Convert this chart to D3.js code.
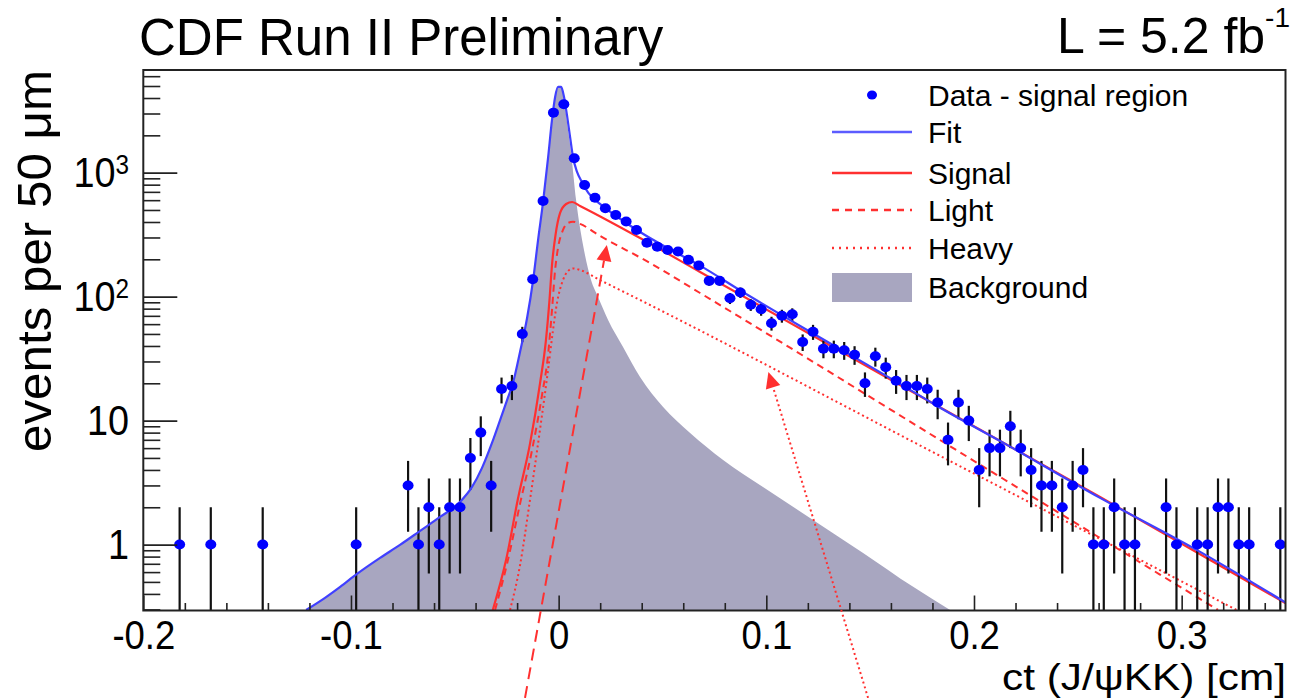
<!DOCTYPE html>
<html><head><meta charset="utf-8">
<script src="https://cdn.jsdelivr.net/npm/d3@7"></script>
<style>
body{margin:0;background:#fff;}
svg{display:block;}
text{font-family:"Liberation Sans",Arial,Helvetica,sans-serif;fill:#000;}
</style>
</head><body>
<svg id="chart" width="1291" height="698"></svg>
<script>
// ---------- data ----------
// data histogram: bin centres of ct [cm] and event counts
const dataCt = [-0.1825,-0.1675,-0.1425,-0.0975,
 -0.0725,-0.0675,-0.0625,-0.0575,-0.0525,-0.0475,-0.0425,-0.0375,-0.0325,-0.0275,
 -0.0225,-0.0175,-0.0125,-0.0075,-0.0025,0.0025,0.0075,0.0125,0.0175,0.0225,
 0.0275,0.0325,0.0375,0.0425,0.0475,0.0525,0.0575,0.0625,0.0675,0.0725,
 0.0775,0.0825,0.0875,0.0925,0.0975,0.1025,0.1075,0.1125,0.1175,0.1225,
 0.1275,0.1325,0.1375,0.1425,0.1475,0.1525,0.1575,0.1625,0.1675,0.1725,
 0.1775,0.1825,0.1875,0.1925,0.1975,0.2025,0.2075,0.2125,0.2175,0.2225,
 0.2275,0.2325,0.2375,0.2425,0.2475,0.2525,0.2575,0.2625,0.2675,0.2725,
 0.2775,0.2925,0.2975,0.3075,0.3125,0.3175,0.3225,0.3275,0.3325,0.3475];
const dataN = [1,1,1,1,
 3,1,2,1,2,2,5,8,3,18,
 19,50,138,591,3048,3562,1306,796,628,516,
 456,403,345,272,253,238,231,198,178,134,
 134,97,108,86,79,61,70,72,43,52,
 38,38,37,34,20,33,27,21,19,19,
 18,14,7,14,10,4,6,6,9,6,
 4,3,3,2,3,4,1,1,2,1,
 1,2,1,1,1,2,2,1,1,1];

// fit (total) curve
const fitCt = [-0.1216,-0.1125,-0.1052,-0.0971,-0.0860,-0.0764,-0.0667,-0.0571,-0.0475,-0.0417,
 -0.0369,-0.0321,-0.0282,-0.0248,-0.0220,-0.0186,-0.0152,-0.0123,-0.0099,-0.0075,
 -0.0051,-0.0032,-0.0017,-0.0003,0.0012,0.0026,0.0040,0.0055,0.0069,0.0089,
 0.0113,0.0142,0.0199,0.0296,0.0392,0.0522,0.0681,0.0879,0.1163,0.1404,
 0.1644,0.1837,0.2125,0.2607,0.3089,0.3503];
const fitVal = [0.297,0.372,0.456,0.580,0.781,0.994,1.29,1.67,2.21,2.92,
 4.16,6.61,10.1,14.7,20.1,35.8,67.3,136,287,580,
 1314,2661,4079,4911,4911,4079,2920,1941,1338,1010,
 835,690,560,425,332,248,178,111,58.0,33.9,
 19.8,12.7,6.86,2.38,0.873,0.339];

// background component
const bgCt = [-0.1216,-0.1125,-0.1052,-0.0971,-0.0860,-0.0764,-0.0667,-0.0571,-0.0475,-0.0417,
 -0.0369,-0.0321,-0.0282,-0.0248,-0.0220,-0.0186,-0.0152,-0.0123,-0.0099,-0.0075,
 -0.0051,-0.0032,-0.0017,-0.0003,0.0012,0.0026,0.0040,0.0060,0.0084,0.0122,
 0.0156,0.0190,0.0238,0.0310,0.0392,0.0503,0.0633,0.0792,0.0984,0.1225,
 0.1466,0.1707,0.1885];
const bgVal = [0.297,0.372,0.456,0.580,0.781,0.994,1.29,1.67,2.21,2.92,
 4.16,6.61,10.1,14.7,20.1,35.8,67.3,136,287,580,
 1314,2661,4079,4911,4911,3930,2565,1442,602,238,
 136,99.4,64.9,39.3,22.5,12.9,7.96,4.82,2.92,1.58,
 0.857,0.456,0.297];

// signal (light + heavy)
const sigCt = [-0.0317,-0.0253,-0.0196,-0.0138,-0.0090,-0.0061,-0.0044,-0.0032,-0.0015,0.0007,
 0.0036,0.0065,0.0103,0.0392,0.0681,0.1644,0.2607,0.3506];
const sigVal = [0.297,0.753,2.34,6.49,19.8,44.8,94.1,180,315,473,
 559,580,539,297,158,19.4,2.42,0.333];

// light component
const lightCt = [-0.0306,-0.0244,-0.0186,-0.0128,-0.0080,-0.0051,-0.0032,-0.0017,-0.0003,0.0021,
 0.0045,0.0069,0.0103,0.0199,0.0440,0.0681,0.2125,0.3175];
const lightVal = [0.297,0.753,2.13,5.80,16.1,33.9,78.1,164,247,345,
 393,402,386,309,187,107,3.52,0.297];

// heavy component
const heavyCt = [-0.0234,-0.0186,-0.0138,-0.0090,-0.0051,-0.0027,-0.0008,0.0021,0.0045,0.0071,
 0.0103,0.0199,0.0296,0.1837,0.3264];
const heavyVal = [0.297,0.681,2.29,8.41,25.6,53.9,89.0,136,161,169,
 164,136,113,5.19,0.297];

// annotation arrows (tail, tip) in data coordinates
const arrowDashed = [[-0.0162,0.058],[0.0232,261]];
const arrowDotted = [[0.1490,0.058],[0.1010,24.7]];

const xMajor = [-0.2,-0.1,0,0.1,0.2,0.3];
const xMajorLabels = ["-0.2","-0.1","0","0.1","0.2","0.3"];
const yMajor = [1,10,100,1000];
const yMajorBase = ["1","10","10","10"];
const yMajorExp = ["","","2","3"];

const legendLabels = ["Data - signal region","Fit","Signal","Light","Heavy","Background"];

// ---------- drawing ----------
const svg = d3.select("#chart");
const L = 143.3, R = 1285.5, T = 70, B = 610.5;
const x = d3.scaleLinear().domain([-0.2, 0.35]).range([L, R]);
const y = d3.scaleLog().domain([0.294, 6730]).range([B, T]);

const RED = "#ff3030", BLUE = "#4040ff", BGC = "#a8a6c0";

svg.append("defs").append("clipPath").attr("id","clip")
  .append("rect").attr("x",L).attr("y",T).attr("width",R-L).attr("height",B-T);

const plot = svg.append("g").attr("clip-path","url(#clip)");

// background area
const bgPts = bgCt.map((c,i)=>[c,bgVal[i]]);
plot.append("path").datum(bgPts)
  .attr("fill",BGC)
  .attr("d", d3.area().x(d=>x(d[0])).y0(B).y1(d=>y(d[1])).curve(d3.curveMonotoneX));

function curve(cts, vals, color, dash, w){
  const pts = cts.map((c,i)=>[c,vals[i]]);
  plot.append("path").datum(pts)
    .attr("fill","none").attr("stroke",color).attr("stroke-width",w)
    .attr("stroke-dasharray",dash)
    .attr("d", d3.line().x(d=>x(d[0])).y(d=>y(d[1])).curve(d3.curveMonotoneX));
}
curve(heavyCt, heavyVal, RED, "2,3", 2);
curve(lightCt, lightVal, RED, "7,5", 2);
curve(sigCt, sigVal, RED, null, 2.2);

// data error bars + points
const pts = dataCt.map((c,i)=>({c, n:dataN[i]}));
plot.selectAll("line.err").data(pts).enter().append("line")
  .attr("x1",d=>x(d.c)).attr("x2",d=>x(d.c))
  .attr("y1",d=>{const lo=d.n-Math.sqrt(d.n); return lo>0.294? y(lo): B+2;})
  .attr("y2",d=>y(d.n+Math.sqrt(d.n)))
  .attr("stroke","#111").attr("stroke-width",2.2);

curve(fitCt, fitVal, BLUE, null, 2.2);

plot.selectAll("ellipse.pt").data(pts).enter().append("ellipse")
  .attr("cx",d=>x(d.c)).attr("cy",d=>y(d.n)).attr("rx",5.5).attr("ry",5)
  .attr("fill","#0000ff");

// frame
svg.append("rect").attr("x",L).attr("y",T).attr("width",R-L).attr("height",B-T)
  .attr("fill","none").attr("stroke","#222").attr("stroke-width",2);

// x axis ticks
const xMinor = d3.range(-0.18, 0.35, 0.02).filter(v=>Math.abs(Math.round(v*10)-v*10)>1e-6);
const gx1 = svg.append("g").attr("transform",`translate(0,${B})`)
  .call(d3.axisBottom(x).tickValues(xMajor).tickSize(-15).tickPadding(9)
        .tickFormat((d,i)=>xMajorLabels[i]));
const gx2 = svg.append("g").attr("transform",`translate(0,${B})`)
  .call(d3.axisBottom(x).tickValues(xMinor).tickSize(-7.5).tickFormat(()=>""));
[gx1,gx2].forEach(g=>{g.select(".domain").remove(); g.selectAll(".tick line").attr("stroke","#222").attr("stroke-width",1.6);});
gx1.selectAll(".tick text").attr("font-size",41)
  .attr("font-family","Liberation Sans, Arial, sans-serif").attr("fill","#000")
  .attr("transform","scale(0.89,1)");

// y axis ticks
const yMinor = [];
[0.1,1,10,100,1000].forEach(d=>{for(let k=2;k<=9;k++){const v=k*d; if(v>=0.294&&v<=6730) yMinor.push(v);}});
const gy1 = svg.append("g").attr("transform",`translate(${L},0)`)
  .call(d3.axisLeft(y).tickValues(yMajor).tickSize(-34).tickFormat(()=>""));
const gy2 = svg.append("g").attr("transform",`translate(${L},0)`)
  .call(d3.axisLeft(y).tickValues(yMinor).tickSize(-17).tickFormat(()=>""));
[gy1,gy2].forEach(g=>{g.select(".domain").remove(); g.selectAll(".tick line").attr("stroke","#222").attr("stroke-width",1.6);});

// y tick labels with superscripts
yMajor.forEach((v,i)=>{
  const g = svg.append("g").attr("transform",`translate(129,${y(v)+14.5}) scale(0.9,1)`);
  const t = g.append("text").attr("text-anchor","end").attr("font-size",42);
  t.append("tspan").text(yMajorBase[i]);
  if (yMajorExp[i]) t.append("tspan").attr("font-size",27).attr("dy",-13).text(yMajorExp[i]);
});

// arrows
function arrow(a, dash){
  const x0=x(a[0][0]), y0=y(a[0][1]), x1=x(a[1][0]), y1=y(a[1][1]);
  const ang = Math.atan2(y1-y0, x1-x0), len=16, hw=7.5;
  const bx = x1-len*Math.cos(ang), by = y1-len*Math.sin(ang);
  svg.append("line").attr("x1",x0).attr("y1",y0).attr("x2",bx).attr("y2",by)
    .attr("stroke",RED).attr("stroke-width",2).attr("stroke-dasharray",dash);
  const px = -Math.sin(ang), py = Math.cos(ang);
  svg.append("path").attr("fill",RED)
    .attr("d",`M${x1},${y1}L${bx+hw*px},${by+hw*py}L${bx-hw*px},${by-hw*py}Z`);
}
arrow(arrowDashed, "12,7");
arrow(arrowDotted, "2,3");

// titles
svg.append("text").attr("x",139).attr("y",55).attr("font-size",51).text("CDF Run II Preliminary");
const lum = svg.append("text").attr("x",1290).attr("y",53).attr("text-anchor","end").attr("font-size",50);
lum.append("tspan").text("L = 5.2 fb");
lum.append("tspan").attr("font-size",28).attr("dy",-26).text("-1");

svg.append("text").attr("transform","translate(51,261) rotate(-90)")
  .attr("text-anchor","middle").attr("font-size",48)
  .attr("textLength",382).attr("lengthAdjust","spacingAndGlyphs")
  .text("events per 50 \u03bcm");
svg.append("text").attr("x",1286).attr("y",690).attr("text-anchor","end")
  .attr("font-size",37).attr("textLength",284).attr("lengthAdjust","spacingAndGlyphs")
  .text("ct (J/\u03c8KK) [cm]");

// legend
const legY = [95,132,173,210,248,287];
const lg = svg.append("g");
legendLabels.forEach((s,i)=>{
  lg.append("text").attr("x",928).attr("y",legY[i]+10.5).attr("font-size",30).text(s);
});
lg.append("ellipse").attr("cx",872).attr("cy",legY[0]).attr("rx",5).attr("ry",4.5).attr("fill","#0000ff");
lg.append("line").attr("x1",832).attr("x2",912).attr("y1",legY[1]).attr("y2",legY[1]).attr("stroke","#5c5cff").attr("stroke-width",2.5);
lg.append("line").attr("x1",832).attr("x2",912).attr("y1",legY[2]).attr("y2",legY[2]).attr("stroke",RED).attr("stroke-width",2.5);
lg.append("line").attr("x1",832).attr("x2",912).attr("y1",legY[3]).attr("y2",legY[3]).attr("stroke",RED).attr("stroke-width",2.5).attr("stroke-dasharray","7,6");
lg.append("line").attr("x1",832).attr("x2",912).attr("y1",legY[4]).attr("y2",legY[4]).attr("stroke",RED).attr("stroke-width",2.5).attr("stroke-dasharray","2,5");
lg.append("rect").attr("x",832).attr("y",273).attr("width",80).attr("height",29).attr("fill",BGC);
</script>
</body></html>
